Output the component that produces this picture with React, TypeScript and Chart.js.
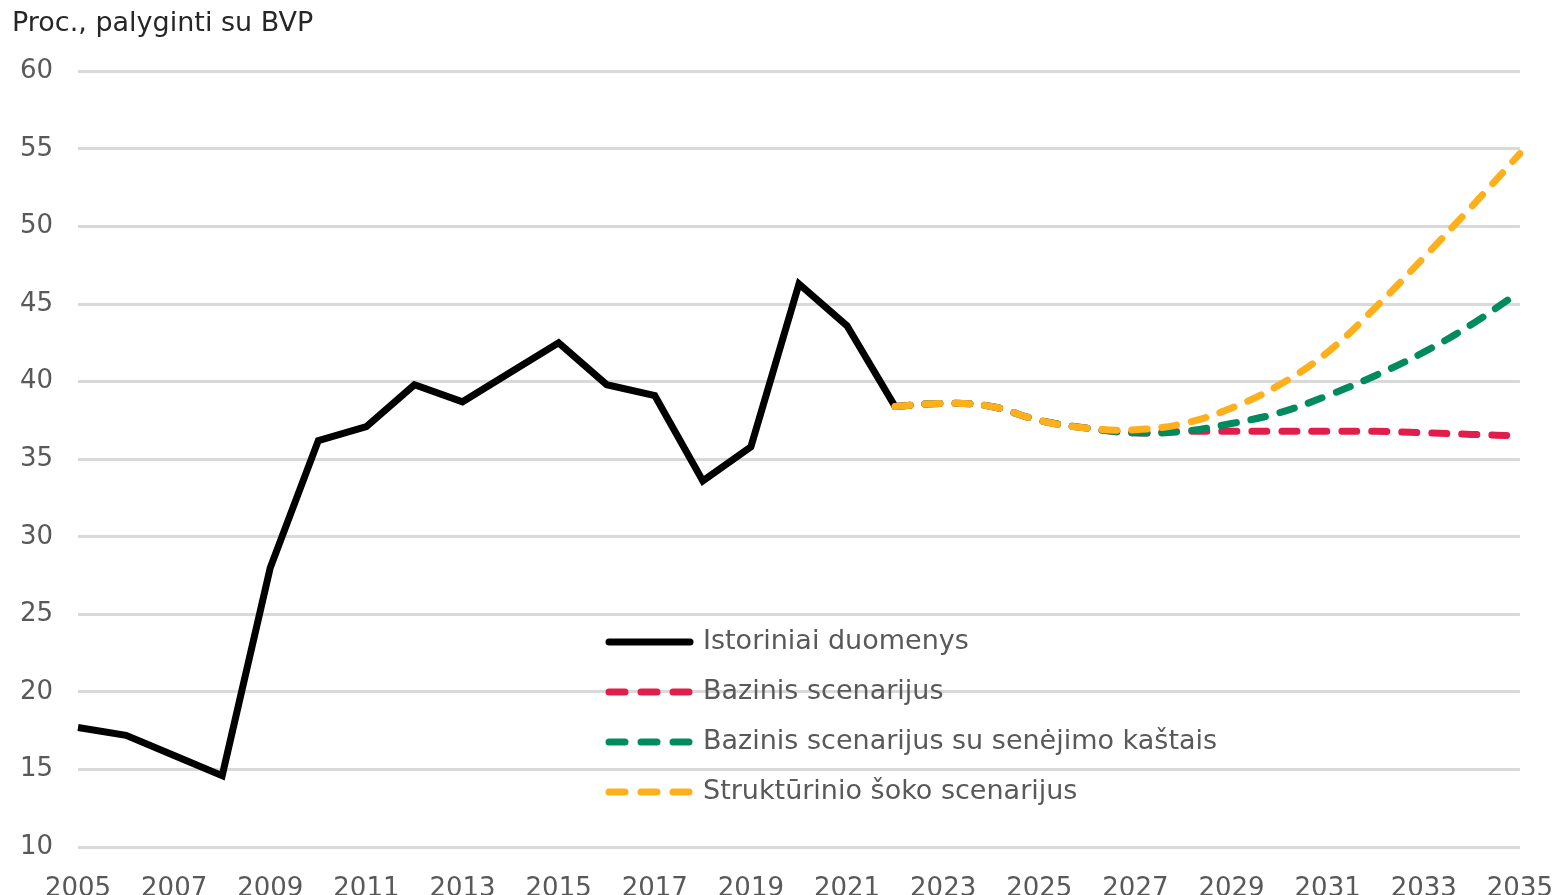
import React, { useEffect, useRef } from "react";
import { Chart, registerables } from "chart.js";

Chart.register(...registerables);

const years = [
  "2005", "2006", "2007", "2008", "2009", "2010", "2011", "2012", "2013", "2014",
  "2015", "2016", "2017", "2018", "2019", "2020", "2021", "2022", "2023", "2024",
  "2025", "2026", "2027", "2028", "2029", "2030", "2031", "2032", "2033", "2034", "2035",
];

const historical = [
  17.7, 17.2, 15.9, 14.6, 28.0, 36.2, 37.1, 39.8, 38.7, 40.6,
  42.5, 39.8, 39.1, 33.6, 35.8, 46.3, 43.6, 38.4,
  null, null, null, null, null, null, null, null, null, null, null, null, null,
];

const baseline = [
  null, null, null, null, null, null, null, null, null, null,
  null, null, null, null, null, null, null,
  38.4, 38.6, 38.4, 37.5, 37.0, 36.7, 36.8, 36.8, 36.8, 36.8, 36.8, 36.7, 36.6, 36.5,
];

const ageing = [
  null, null, null, null, null, null, null, null, null, null,
  null, null, null, null, null, null, null,
  38.4, 38.6, 38.4, 37.5, 37.0, 36.7, 36.8, 37.3, 38.0, 39.1, 40.4, 41.9, 43.7, 45.8,
];

const structural = [
  null, null, null, null, null, null, null, null, null, null,
  null, null, null, null, null, null, null,
  38.4, 38.6, 38.4, 37.5, 37.0, 36.9, 37.3, 38.3, 39.8, 41.9, 44.8, 48.0, 51.3, 54.7,
];

const seriesLabels = [
  "Istoriniai duomenys",
  "Bazinis scenarijus",
  "Bazinis scenarijus su senėjimo kaštais",
  "Struktūrinio šoko scenarijus",
];

const seriesColors = ["#000000", "#E31D4B", "#008B5E", "#FDB01B"];

const titleText = "Proc., palyginti su BVP";

const FONT = "'DejaVu Sans', Verdana, sans-serif";

const insideLegend = {
  id: "insideLegend",
  afterDraw(chart: any) {
    const ctx = chart.ctx;
    const x0 = 609;
    const x1 = 690;
    const textX = 703;
    const y0 = 642;
    const step = 50;
    chart.data.datasets.forEach((ds: any, i: number) => {
      const y = y0 + i * step;
      ctx.save();
      ctx.strokeStyle = ds.borderColor;
      ctx.lineWidth = 7;
      ctx.lineCap = "round";
      ctx.setLineDash(ds.borderDash && ds.borderDash.length ? [16, 16] : []);
      ctx.beginPath();
      ctx.moveTo(x0, y);
      ctx.lineTo(x1, y);
      ctx.stroke();
      ctx.setLineDash([]);
      ctx.fillStyle = "#595959";
      ctx.font = `27px ${FONT}`;
      ctx.textBaseline = "middle";
      ctx.textAlign = "left";
      ctx.fillText(ds.label, textX, y);
      ctx.restore();
    });
  },
};

export default function App() {
  const canvasRef = useRef<HTMLCanvasElement | null>(null);

  useEffect(() => {
    if (!canvasRef.current) return;
    const dashed = {
      borderWidth: 7,
      borderDash: [15, 15],
      borderCapStyle: "round",
      pointRadius: 0,
      tension: 0.4,
      fill: false,
      spanGaps: false,
    };
    const chart = new Chart(canvasRef.current, {
      type: "line",
      data: {
        labels: years,
        datasets: [
          {
            label: seriesLabels[0],
            data: historical,
            borderColor: seriesColors[0],
            backgroundColor: seriesColors[0],
            borderWidth: 7,
            pointRadius: 0,
            tension: 0,
            borderJoinStyle: "miter",
            order: 4,
          },
          {
            label: seriesLabels[1],
            data: baseline,
            borderColor: seriesColors[1],
            backgroundColor: seriesColors[1],
            order: 3,
            ...dashed,
          },
          {
            label: seriesLabels[2],
            data: ageing,
            borderColor: seriesColors[2],
            backgroundColor: seriesColors[2],
            order: 2,
            ...dashed,
          },
          {
            label: seriesLabels[3],
            data: structural,
            borderColor: seriesColors[3],
            backgroundColor: seriesColors[3],
            order: 1,
            ...dashed,
          },
        ] as any,
      },
      options: {
        animation: false,
        responsive: false,
        maintainAspectRatio: false,
        devicePixelRatio: 1,
        layout: { padding: { left: 12, right: 41, top: 0, bottom: 0 } },
        plugins: {
          legend: { display: false },
          tooltip: { enabled: false },
          title: {
            display: true,
            text: titleText,
            align: "start",
            color: "#262626",
            font: { family: FONT, size: 27, weight: "normal", lineHeight: 1.2 },
            padding: { top: 8, bottom: 31 },
          },
        },
        scales: {
          x: {
            grid: { display: false },
            border: { display: false },
            afterFit: (scale: any) => {
              scale.height = 48;
            },
            ticks: {
              autoSkip: false,
              maxRotation: 0,
              minRotation: 0,
              padding: 8,
              color: "#595959",
              font: { family: FONT, size: 26, lineHeight: 2 },
              callback: (_v: any, i: number) => (i % 2 === 0 ? years[i] : ""),
            },
          },
          y: {
            min: 10,
            max: 60,
            afterFit: (scale: any) => {
              scale.width = 66;
            },
            border: { display: false },
            grid: { color: "#D9D9D9", lineWidth: 3, drawTicks: false },
            ticks: {
              stepSize: 5,
              padding: 25,
              color: "#595959",
              font: { family: FONT, size: 26, lineHeight: 1 },
            },
          },
        },
      } as any,
      plugins: [insideLegend],
    });
    return () => chart.destroy();
  }, []);

  return (
    <div
      style={{
        position: "fixed",
        left: 0,
        top: 0,
        width: 1561,
        height: 895,
        background: "#ffffff",
      }}
    >
      <canvas
        ref={canvasRef}
        width={1561}
        height={895}
        style={{ display: "block", width: 1561, height: 895 }}
      />
    </div>
  );
}
